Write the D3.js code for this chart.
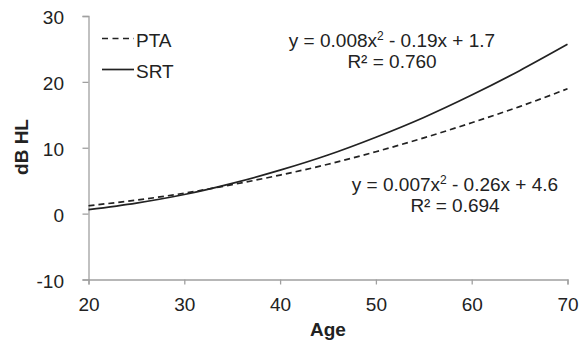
<!DOCTYPE html>
<html><head><meta charset="utf-8">
<script src="https://cdn.jsdelivr.net/npm/d3@7"></script>
<style>body{margin:0;background:#fff}svg{display:block}text{font-family:"Liberation Sans",Arial,sans-serif;fill:#222}</style>
</head><body><svg id="c" width="588" height="342"></svg>
<script>
const ages = [20,25,30,35,40,45,50,55,60,65,70];
const ptaValues = [1.2,2.05,3.1,4.4,5.85,7.5,9.4,11.5,13.8,16.25,18.95];
const srtValues = [0.6,1.6,2.9,4.6,6.6,8.9,11.6,14.6,18.0,21.7,25.7];
const xTicks = [20,30,40,50,60,70];
const yTicks = [-10,0,10,20,30];
const seriesNames = ["PTA","SRT"];
const eqSRT = ["y = 0.008x","2"," - 0.19x + 1.7"];
const r2SRT = "R² = 0.760";
const eqPTA = ["y = 0.007x","2"," - 0.26x + 4.6"];
const r2PTA = "R² = 0.694";

const FS = 19;
const svg = d3.select("#c");
const x = d3.scaleLinear().domain([20,70]).range([88.5,567.5]);
const y = d3.scaleLinear().domain([-10,30]).range([279.5,16]);
const axisColor = "#a0a0a0";

const gx = svg.append("g").attr("transform",`translate(0,${y(-10)})`)
  .call(d3.axisBottom(x).tickValues(xTicks).tickFormat(d=>String(d)).tickSize(5).tickPadding(12));
const gy = svg.append("g").attr("transform",`translate(${x(20)},0)`)
  .call(d3.axisLeft(y).tickValues(yTicks).tickFormat(d=>String(d)).tickSize(6).tickPadding(18.5));
[gx,gy].forEach(g=>{
  g.selectAll("path,line").attr("stroke",axisColor).attr("stroke-width",1.3);
  g.selectAll("text").attr("font-size",FS).attr("fill","#222")
   .style("font-family",'"Liberation Sans",Arial,sans-serif');
});
gx.selectAll("text").attr("dy","0.75em");
gy.selectAll("text").attr("dy","0.42em");

const line = d3.line().x((d,i)=>x(ages[i])).y(d=>y(d)).curve(d3.curveMonotoneX);
svg.append("path").attr("d",line(ptaValues)).attr("fill","none")
  .attr("stroke","#222").attr("stroke-width",1.7).attr("stroke-dasharray","6,4");
svg.append("path").attr("d",line(srtValues)).attr("fill","none")
  .attr("stroke","#222").attr("stroke-width",1.7);

// legend
const leg = svg.append("g");
leg.append("line").attr("x1",102).attr("x2",134).attr("y1",38.5).attr("y2",38.5)
  .attr("stroke","#222").attr("stroke-width",1.7).attr("stroke-dasharray","6,4.5");
leg.append("text").attr("x",136).attr("y",46.5).attr("font-size",FS).text(seriesNames[0]);
leg.append("line").attr("x1",102).attr("x2",134).attr("y1",69.5).attr("y2",69.5)
  .attr("stroke","#222").attr("stroke-width",1.7);
leg.append("text").attr("x",136).attr("y",77.5).attr("font-size",FS).text(seriesNames[1]);

function eq(cx, y1, parts, r2){
  const t = svg.append("text").attr("x",cx).attr("y",y1).attr("font-size",FS).attr("text-anchor","middle");
  t.append("tspan").text(parts[0]);
  t.append("tspan").attr("dy",-7).attr("font-size",12).text(parts[1]);
  t.append("tspan").attr("dy",7).text(parts[2]);
  svg.append("text").attr("x",cx).attr("y",y1+21.5).attr("font-size",FS).attr("text-anchor","middle").text(r2);
}
eq(392,46.5,eqSRT,r2SRT);
eq(455,190.5,eqPTA,r2PTA);

svg.append("text").attr("x",328).attr("y",336).attr("font-size",FS).attr("font-weight","bold")
  .attr("text-anchor","middle").text("Age");
svg.append("text").attr("transform","translate(28,147) rotate(-90)").attr("font-size",FS)
  .attr("font-weight","bold").attr("text-anchor","middle").text("dB HL");
</script></body></html>
